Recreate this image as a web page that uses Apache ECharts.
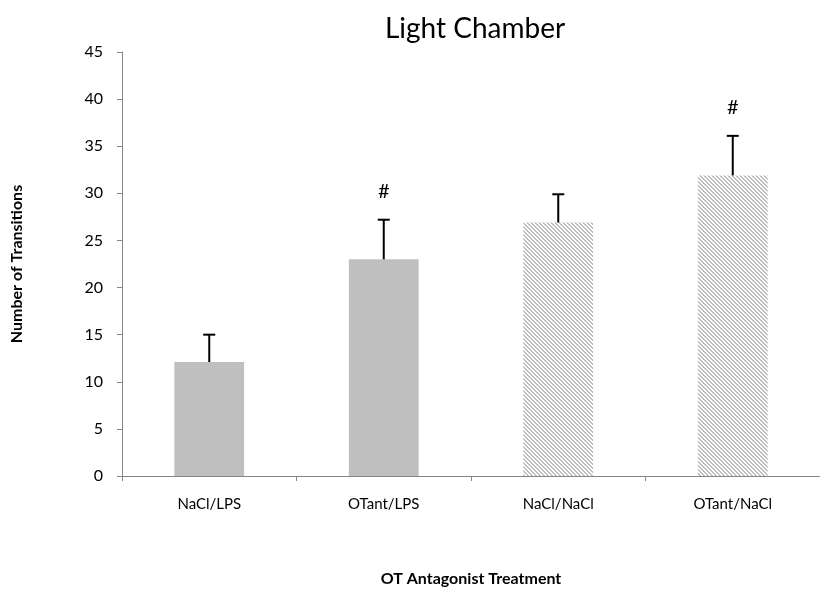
<!DOCTYPE html>
<html>
<head>
<meta charset="utf-8">
<script src="https://cdn.jsdelivr.net/npm/echarts@6/dist/echarts.min.js"></script>
<style>html,body{margin:0;padding:0;background:#fff}#c{width:820px;height:592px}</style>
</head>
<body>
<div id="c"></div>
<script>
var categories = ['NaCl/LPS', 'OTant/LPS', 'NaCl/NaCl', 'OTant/NaCl'];
var means = [12.1, 23.0, 26.9, 31.9];
var errUpper = [2.9, 4.2, 3.0, 4.2];
var sigMarks = ['', '#', '', '#'];
var hatched = [false, false, true, true];
var yTicks = [0, 5, 10, 15, 20, 25, 30, 35, 40, 45];

var FONT = 'Lato, "Open Sans", sans-serif';

function makePattern() {
  var s = 4;
  var cv = document.createElement('canvas');
  cv.width = s; cv.height = s;
  var ctx = cv.getContext('2d');
  ctx.fillStyle = '#ffffff';
  ctx.fillRect(0, 0, s, s);
  ctx.fillStyle = '#bcbcbc';
  for (var y = 0; y < s; y++) {
    for (var x = 0; x < s; x++) {
      var d = ((x - y) % s + s) % s;
      if (d < 2) ctx.fillRect(x, y, 1, 1);
    }
  }
  return cv;
}
var pattern = { image: makePattern(), repeat: 'repeat' };

var barData = means.map(function (v, i) {
  return { value: v, itemStyle: { color: hatched[i] ? pattern : '#bfbfbf' } };
});
var errData = means.map(function (v, i) { return [i, v, v + errUpper[i]]; });

var chart = echarts.init(document.getElementById('c'), null, { renderer: 'canvas' });
chart.setOption({
  animation: false,
  backgroundColor: '#ffffff',
  grid: { left: 122, right: -8, top: 52, bottom: 109, containLabel: false },
  graphic: [{
    type: 'text', x: 475, y: 29,
    style: { text: 'Light Chamber', font: '28px ' + FONT, fill: '#000', textAlign: 'center', textVerticalAlign: 'middle' }
  }],
  xAxis: {
    type: 'category',
    data: categories,
    name: 'OT Antagonist Treatment',
    nameLocation: 'middle',
    nameGap: 95,
    nameTextStyle: { fontFamily: FONT, fontWeight: 'bold', fontSize: 16, color: '#000' },
    axisLine: { lineStyle: { color: '#868686', width: 1 } },
    axisTick: { show: true, length: 5, alignWithLabel: false, lineStyle: { color: '#868686' } },
    axisLabel: { fontFamily: FONT, fontSize: 15, color: '#000', margin: 21 },
    splitLine: { show: false }
  },
  yAxis: {
    type: 'value',
    min: 0, max: 45, interval: 5,
    name: 'Number of Transitions',
    nameLocation: 'middle',
    nameGap: 97,
    nameRotate: 90,
    nameTextStyle: { fontFamily: FONT, fontWeight: 'bold', fontSize: 16, color: '#000' },
    axisLine: { show: true, lineStyle: { color: '#868686', width: 1 } },
    axisTick: { show: true, length: 5, lineStyle: { color: '#868686' } },
    axisLabel: { fontFamily: FONT, fontSize: 16, color: '#000', margin: 19,
      formatter: function (v) { return yTicks.indexOf(v) >= 0 ? String(v) : ''; } },
    splitLine: { show: false }
  },
  series: [{
    type: 'bar',
    data: barData,
    barWidth: '40%',
    z: 2
  }, {
    type: 'custom',
    data: errData,
    z: 3,
    renderItem: function (params, api) {
      var i = api.value(0);
      var p0 = api.coord([i, api.value(1)]);
      var p1 = api.coord([i, api.value(2)]);
      var cap = 6;
      var children = [
        { type: 'line', shape: { x1: p0[0], y1: p0[1], x2: p1[0], y2: p1[1] }, style: { stroke: '#000', lineWidth: 2 } },
        { type: 'line', shape: { x1: p1[0] - cap, y1: p1[1], x2: p1[0] + cap, y2: p1[1] }, style: { stroke: '#000', lineWidth: 2 } }
      ];
      var mark = sigMarks[i];
      if (mark) {
        children.push({ type: 'text', style: { text: mark, x: p1[0], y: p1[1] - 28, textAlign: 'center', textVerticalAlign: 'middle', font: '20px ' + FONT, fill: '#000' } });
      }
      return { type: 'group', children: children };
    }
  }]
});
</script>
</body>
</html>
